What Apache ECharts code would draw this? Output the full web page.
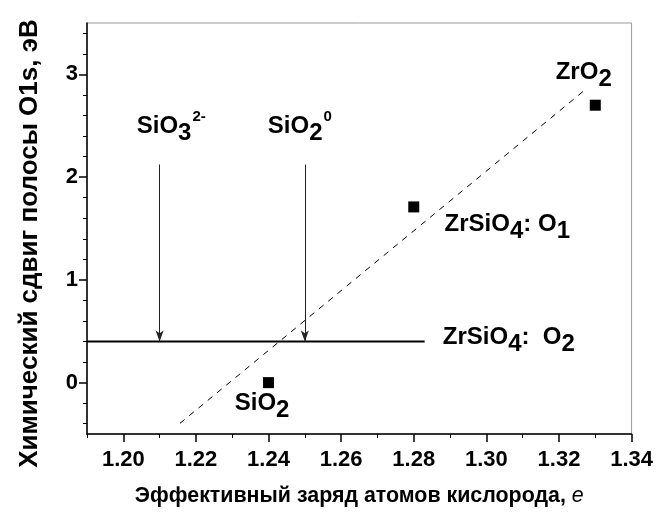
<!DOCTYPE html>
<html><head><meta charset="utf-8">
<script src="https://cdn.jsdelivr.net/npm/echarts@6/dist/echarts.min.js"></script>
<style>html,body{margin:0;padding:0;background:#fff}#c{width:656px;height:512px}</style>
</head><body><div id="c"></div>
<script>
// ---- data ----
const xMajorTicks = [1.20, 1.22, 1.24, 1.26, 1.28, 1.30, 1.32, 1.34];
const xMinorTicks = [1.19, 1.21, 1.23, 1.25, 1.27, 1.29, 1.31, 1.33];
const yMajorTicks = [0, 1, 2, 3];
const yMinorTicks = [-0.4, -0.2, 0.2, 0.4, 0.6, 0.8, 1.2, 1.4, 1.6, 1.8, 2.2, 2.4, 2.6, 2.8, 3.2, 3.4];
const compoundNames = ['SiO2', 'ZrSiO4: O1', 'ZrO2'];
const chargeValues = [1.24, 1.28, 1.33];
const shiftValues = [0.00, 1.71, 2.70];
const fitLineX = [1.2156, 1.3272];
const fitLineY = [-0.396, 2.85];
const o2LineX = [1.19, 1.283];
const o2LineY = [0.4, 0.4];
const arrowNames = ['SiO3 2-', 'SiO2 0'];
const arrowX = [1.21, 1.25];
const arrowTopY = [2.123, 2.123];
const arrowBottomY = [0.4, 0.4];

const FONT = '"Liberation Sans", Arial, sans-serif';
const base = {fontSize: 24, fontWeight: 'bold', fontFamily: FONT, color: '#000', verticalAlign: 'top', padding: [5, 0, 0, 0]};
const rich = {
  b: Object.assign({}, base),
  sub: Object.assign({}, base, {padding: [12, 0, 0, 0]}),
  sup: Object.assign({}, base, {fontSize: 15, padding: [0, 0, 0, 1]})
};
const annotations = [
  {value: [1.2037, 2.66], text: '{b|SiO}{sub|3}{sup|2-}'},
  {value: [1.2398, 2.66], text: '{b|SiO}{sub|2}{sup|0}'},
  {value: [1.3191, 3.185], text: '{b|ZrO}{sub|2}'},
  {value: [1.2885, 1.705], text: '{b|ZrSiO}{sub|4}{b|: O}{sub|1}'},
  {value: [1.2880, 0.606], text: '{b|ZrSiO}{sub|4}{b|:  O}{sub|2}'},
  {value: [1.2307, -0.037], text: '{b|SiO}{sub|2}'}
];

const chart = echarts.init(document.getElementById('c'), null, {renderer: 'canvas'});
const axisLabelStyle = {color: '#000', fontSize: 22, fontWeight: 'bold', fontFamily: FONT};
const option = {
  animation: false,
  backgroundColor: '#fff',
  grid: {left: 87, right: 24, top: 23, bottom: 78, show: true, borderColor: '#999', borderWidth: 1, backgroundColor: 'transparent'},
  xAxis: [
    {type: 'value', min: 1.19, max: 1.34, position: 'bottom',
     axisLine: {show: true, onZero: false, lineStyle: {color: '#000', width: 1.5}},
     axisTick: {show: true, inside: false, length: 8, customValues: xMajorTicks, lineStyle: {color: '#000', width: 1.5}},
     axisLabel: {show: true, customValues: xMajorTicks, formatter: v => v.toFixed(2), margin: 15, ...axisLabelStyle},
     splitLine: {show: false},
     name: 'Эффективный заряд атомов кислорода, {i|e}', nameLocation: 'middle', nameGap: 52,
     nameTextStyle: {...axisLabelStyle, fontSize: 21.4, rich: {i: {fontStyle: 'italic', fontWeight: 'normal', fontSize: 21.4, fontFamily: FONT, color: '#000'}}}},
    {type: 'value', min: 1.19, max: 1.34, position: 'bottom',
     axisLine: {show: false, onZero: false},
     axisTick: {show: true, inside: false, length: 4, customValues: xMinorTicks, lineStyle: {color: '#000', width: 1}},
     axisLabel: {show: false}, splitLine: {show: false}}
  ],
  yAxis: [
    {type: 'value', min: -0.5, max: 3.5, position: 'left',
     axisLine: {show: true, onZero: false, lineStyle: {color: '#000', width: 1.5}},
     axisTick: {show: true, inside: false, length: 8, customValues: yMajorTicks, lineStyle: {color: '#000', width: 1.5}},
     axisLabel: {show: true, customValues: yMajorTicks, formatter: v => String(v), margin: 9, ...axisLabelStyle},
     splitLine: {show: false},
     name: 'Химический сдвиг полосы O1s, эВ', nameLocation: 'middle', nameGap: 44,
     nameTextStyle: {...axisLabelStyle, fontSize: 26, padding: [0, 30, 0, 0]}},
    {type: 'value', min: -0.5, max: 3.5, position: 'left',
     axisLine: {show: false, onZero: false},
     axisTick: {show: true, inside: false, length: 4, customValues: yMinorTicks, lineStyle: {color: '#000', width: 1}},
     axisLabel: {show: false}, splitLine: {show: false}}
  ],
  series: [
    {type: 'line', name: 'fit', xAxisIndex: 0, yAxisIndex: 0, showSymbol: false, silent: true,
     data: fitLineX.map((x, i) => [x, fitLineY[i]]),
     lineStyle: {color: '#000', width: 1, type: [6, 6]}},
    {type: 'line', name: 'O2', xAxisIndex: 0, yAxisIndex: 0, showSymbol: false, silent: true,
     data: o2LineX.map((x, i) => [x, o2LineY[i]]),
     lineStyle: {color: '#000', width: 2},
     markLine: {silent: true, symbol: ['none', 'arrow'], symbolSize: [6, 11], label: {show: false},
       lineStyle: {color: '#222', width: 1, type: 'solid'},
       data: arrowNames.map((n, i) => [{name: n, coord: [arrowX[i], arrowTopY[i]]}, {coord: [arrowX[i], arrowBottomY[i]]}])}},
    {type: 'scatter', name: 'points', xAxisIndex: 0, yAxisIndex: 0, symbol: 'rect', symbolSize: 11,
     itemStyle: {color: '#000', opacity: 1},
     data: chargeValues.map((x, i) => ({name: compoundNames[i], value: [x, shiftValues[i]]}))},
    {type: 'scatter', name: 'labels', xAxisIndex: 0, yAxisIndex: 0, symbolSize: 0, silent: true,
     itemStyle: {color: '#000', opacity: 1},
     data: annotations.map(a => ({value: a.value, label: {formatter: a.text}})),
     label: {show: true, position: 'inside', align: 'left', verticalAlign: 'top', color: '#000', opacity: 1, rich: rich}}
  ]
};
chart.setOption(option);
</script>
</body></html>
